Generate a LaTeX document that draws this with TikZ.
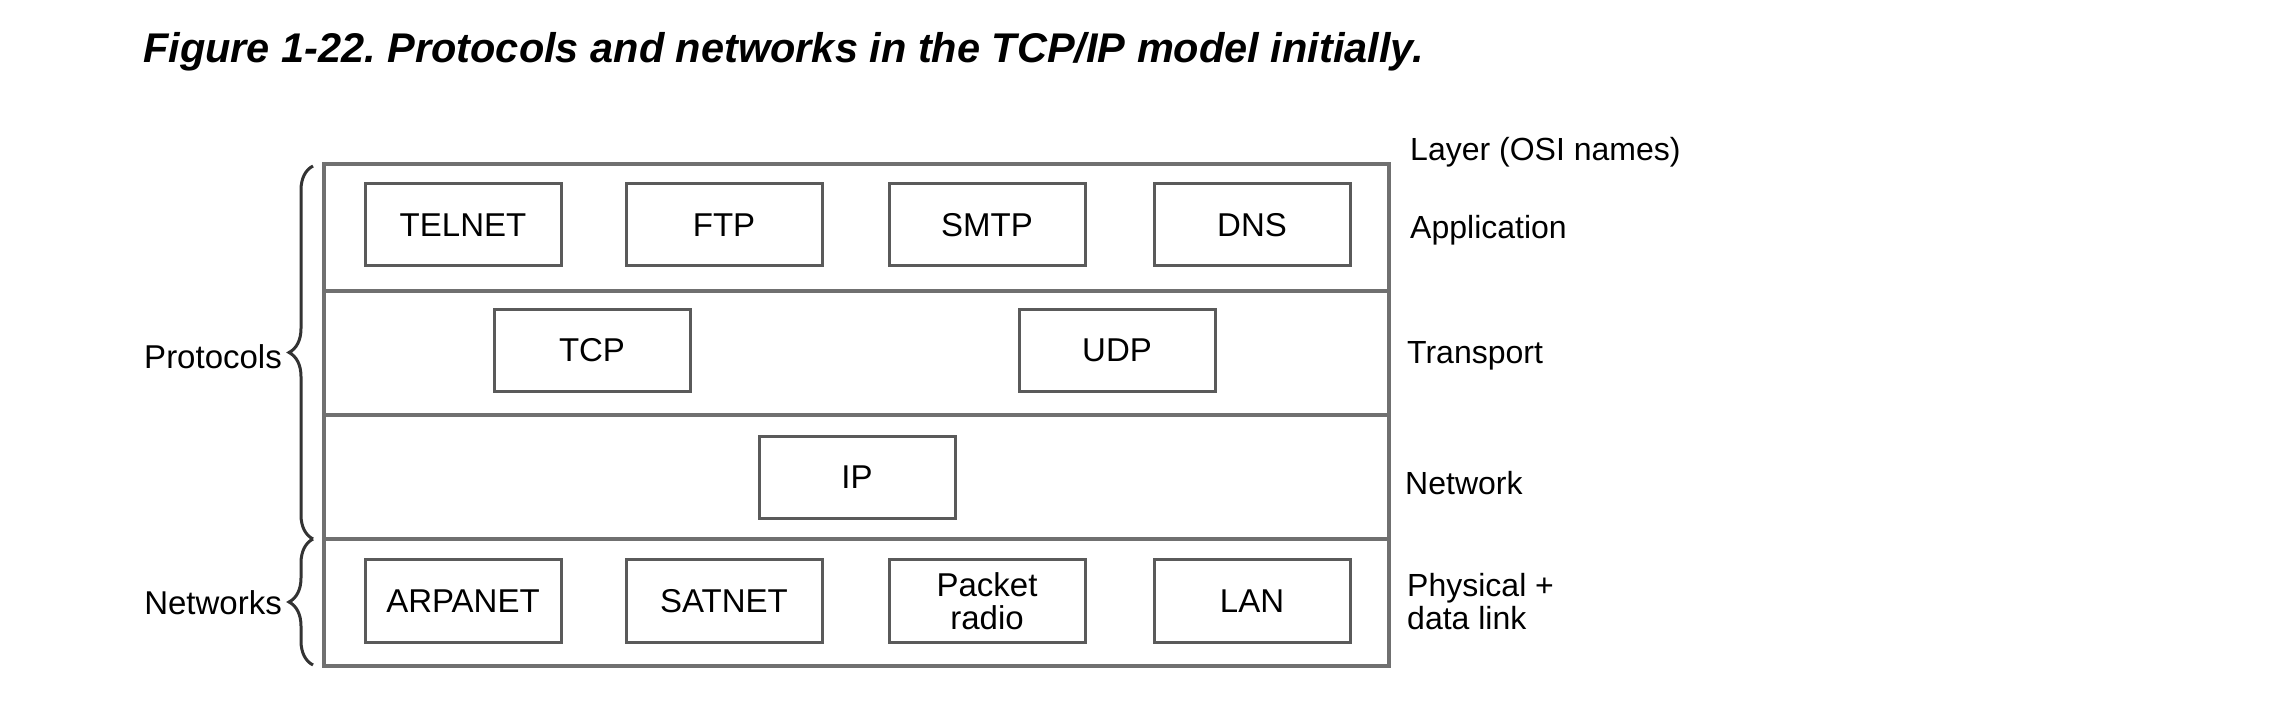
\documentclass[tikz,border=0pt]{standalone}
\usepackage{fontspec}
\setmainfont{Liberation Sans}
\usetikzlibrary{decorations.pathreplacing}
\definecolor{frame}{HTML}{707070}
\definecolor{boxline}{HTML}{5A5A5A}
\definecolor{bracec}{HTML}{333333}
\frenchspacing
\begin{document}
\begin{tikzpicture}[x=1pt,y=1pt,
  proto/.style={draw=boxline,line width=3pt,minimum width=196pt,minimum height=82pt,inner sep=0pt,align=center,font=\fontsize{33}{33}\selectfont},
  layerlbl/.style={anchor=west,inner sep=0pt,align=left,font=\fontsize{32}{33}\selectfont},
  sidelbl/.style={anchor=east,inner sep=0pt,font=\fontsize{33}{33}\selectfont},
  sep/.style={draw=frame,line width=3.5pt},
  bracestyle/.style={draw=bracec,line width=3pt,decorate,decoration={brace,amplitude=24pt}}]
\useasboundingbox (0,0) rectangle (2290,720);
% title
\node[anchor=base west,inner sep=0pt,font=\fontsize{41.5}{48}\selectfont\bfseries\itshape] (title) at (143,657) {Figure 1-22. Protocols and networks in the TCP/IP model initially.};
% outer frame and separators
\coordinate (fl) at (324,54);
\coordinate (fr) at (1389,556);
\draw[sep] (fl) rectangle (fr);
\coordinate (s1l) at (324,429); \coordinate (s1r) at (1389,429);
\coordinate (s2l) at (324,305); \coordinate (s2r) at (1389,305);
\coordinate (s3l) at (324,181); \coordinate (s3r) at (1389,181);
\draw[sep] (s1l) -- (s1r);
\draw[sep] (s2l) -- (s2r);
\draw[sep] (s3l) -- (s3r);
% application row
\node[proto] (telnet) at (463,495) {\raisebox{-3pt}{TELNET}};
\node[proto] (ftp) at (724,495) {\raisebox{-3pt}{FTP}};
\node[proto] (smtp) at (987,495) {\raisebox{-3pt}{SMTP}};
\node[proto] (dns) at (1252,495) {\raisebox{-3pt}{DNS}};
% transport row
\node[proto] (tcp) at (592,369.5) {\raisebox{-3pt}{TCP}};
\node[proto] (udp) at (1117,369.5) {\raisebox{-3pt}{UDP}};
% network row
\node[proto] (ip) at (857,242.5) {\raisebox{-3pt}{IP}};
% link row
\node[proto] (arpanet) at (463,119) {\raisebox{-3pt}{ARPANET}};
\node[proto] (satnet) at (724,119) {\raisebox{-3pt}{SATNET}};
\node[proto] (packet) at (987,119) {Packet\\radio};
\node[proto] (lan) at (1252,119) {\raisebox{-3pt}{LAN}};
% layer labels
\node[layerlbl] (osi) at (1410,568) {Layer (OSI names)};
\node[layerlbl] (app) at (1410,490) {Application};
\node[layerlbl] (trans) at (1407,364) {Transport};
\node[layerlbl] (net) at (1405,237) {Network};
\node[layerlbl] (phys) at (1407,118) {Physical +\\data link};
% braces
\coordinate (bt) at (313,554);
\coordinate (bm) at (313,181);
\coordinate (bb) at (313,55);
\draw[bracestyle] (bm) -- (bt);
\draw[bracestyle] (bb) -- (bm);
\node[sidelbl] (protocols) at (282,363) {Protocols};
\node[sidelbl] (networks) at (282,117) {Networks};
\end{tikzpicture}
\end{document}
